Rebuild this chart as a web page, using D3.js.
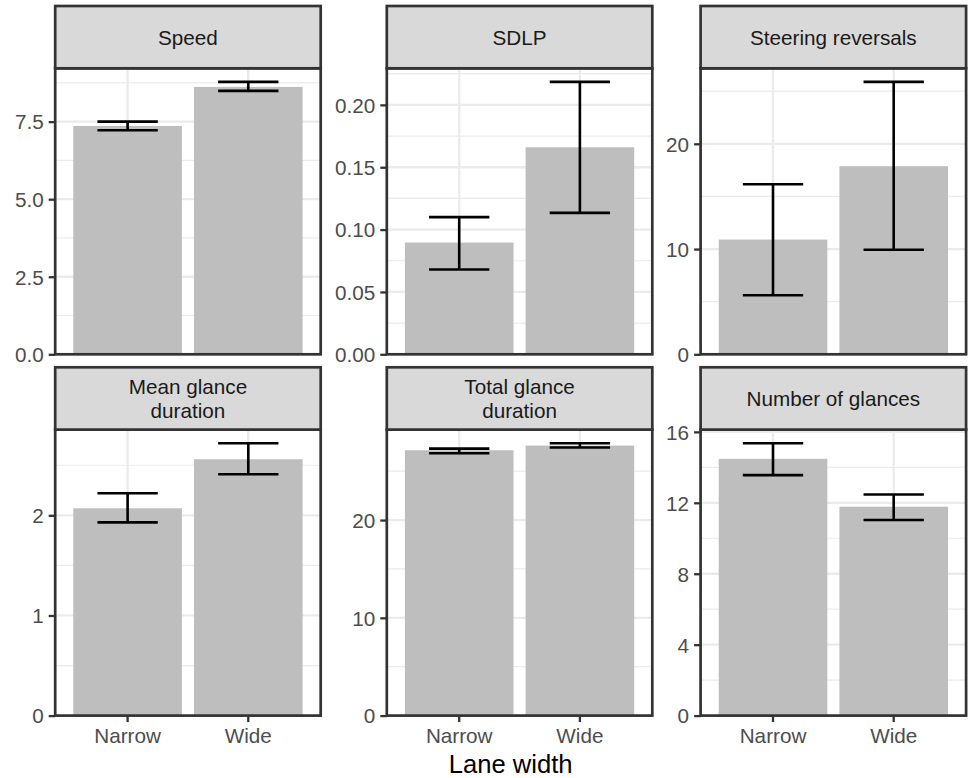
<!DOCTYPE html>
<html>
<head>
<meta charset="utf-8">
<script src="https://cdn.jsdelivr.net/npm/d3@7"></script>
<style>
  body { margin: 0; background: #fff; }
  text { font-family: "Liberation Sans", Arial, Helvetica, sans-serif; }
</style>
</head>
<body>
<svg id="chart"></svg>
<script>
// facet labels (two-line ones split on \n)
var facets = ['Speed', 'SDLP', 'Steering reversals',
              'Mean glance\nduration', 'Total glance\nduration', 'Number of glances'];
var laneWidth = ['Narrow', 'Wide'];

// bar heights (mean) and error bar ends, per facet: [Narrow, Wide]
var means = [[7.36, 8.62], [0.0896, 0.166], [10.9, 17.87], [2.07, 2.56], [27.14, 27.62], [14.48, 11.78]];
var lower = [[7.22, 8.49], [0.068, 0.1134], [5.61, 9.94], [1.93, 2.41], [26.84, 27.42], [13.56, 11.03]];
var upper = [[7.50, 8.78], [0.110, 0.2184], [16.16, 25.88], [2.22, 2.72], [27.31, 27.86], [15.36, 12.47]];

var yTicks = [[0, 2.5, 5, 7.5], [0, 0.05, 0.10, 0.15, 0.20], [0, 10, 20],
              [0, 1, 2], [0, 10, 20], [0, 4, 8, 12, 16]];
var yTickLabels = [['0.0', '2.5', '5.0', '7.5'], ['0.00', '0.05', '0.10', '0.15', '0.20'], ['0', '10', '20'],
                   ['0', '1', '2'], ['0', '10', '20'], ['0', '4', '8', '12', '16']];

var width = 975;
var height = 778;
var colX = [55.2, 386.8, 700.6];
var panelW = 265.5;
var rowStrip = [6, 367.3];
var stripH = 62.3;
var panelH = 286;
var borderCol = '#333333';
var fontSize = 20.7;

var svg = d3.select('#chart')
    .attr('width', width)
    .attr('height', height);

facets.forEach(function(label, i) {
    var col = i % 3;
    var row = Math.floor(i / 3);
    var x0 = colX[col];
    var sTop = rowStrip[row];
    var pTop = sTop + stripH;
    var pBot = pTop + panelH;

    var yMax = d3.max(upper[i]) * 1.05;
    var yScale = d3.scaleLinear()
                    .domain([0, yMax])
                    .range([pBot, pTop]);
    var xScale = d3.scaleBand()
                    .domain(laneWidth)
                    .range([x0, x0 + panelW])
                    .paddingInner(0.1)
                    .paddingOuter(0.15);

    var g = svg.append('g');

    // panel background
    g.append('rect')
        .attr('x', x0).attr('y', pTop)
        .attr('width', panelW).attr('height', panelH)
        .attr('fill', '#ffffff');

    // minor grid: halfway between major breaks
    var step = yTicks[i][1] - yTicks[i][0];
    var minor = yTicks[i].map(d => d + step / 2).filter(d => d < yMax);
    g.selectAll('.minor')
        .data(minor)
        .enter()
      .append('line')
        .attr('x1', x0).attr('x2', x0 + panelW)
        .attr('y1', d => yScale(d)).attr('y2', d => yScale(d))
        .attr('stroke', '#EBEBEB')
        .attr('stroke-width', 1.2);

    g.selectAll('.major')
        .data(yTicks[i])
        .enter()
      .append('line')
        .attr('x1', x0).attr('x2', x0 + panelW)
        .attr('y1', d => yScale(d)).attr('y2', d => yScale(d))
        .attr('stroke', '#EBEBEB')
        .attr('stroke-width', 2.3);

    g.selectAll('.vgrid')
        .data(laneWidth)
        .enter()
      .append('line')
        .attr('x1', d => xScale(d) + xScale.bandwidth() / 2)
        .attr('x2', d => xScale(d) + xScale.bandwidth() / 2)
        .attr('y1', pTop).attr('y2', pBot)
        .attr('stroke', '#EBEBEB')
        .attr('stroke-width', 2.3);

    // bars
    g.selectAll('.bar')
        .data(laneWidth)
        .enter()
      .append('rect')
        .attr('x', d => xScale(d))
        .attr('y', (d, j) => yScale(means[i][j]))
        .attr('width', xScale.bandwidth())
        .attr('height', (d, j) => pBot - yScale(means[i][j]))
        .attr('fill', '#BEBEBE');

    // error bars (width 0.5 of category spacing)
    var half = xScale.bandwidth() / 0.9 * 0.25;
    var eb = g.selectAll('.eb')
        .data(laneWidth)
        .enter()
      .append('g')
        .attr('stroke', '#000')
        .attr('stroke-width', 2.6)
        .attr('fill', 'none');
    eb.append('path')
        .attr('d', function(d, j) {
            var cx = xScale(d) + xScale.bandwidth() / 2;
            var yl = yScale(lower[i][j]);
            var yu = yScale(upper[i][j]);
            return 'M' + (cx - half) + ',' + yu + 'H' + (cx + half) +
                   'M' + cx + ',' + yu + 'V' + yl +
                   'M' + (cx - half) + ',' + yl + 'H' + (cx + half);
        });

    // y axis
    var yAxis = d3.axisLeft(yScale)
                    .tickValues(yTicks[i])
                    .tickFormat((d, k) => yTickLabels[i][k])
                    .tickSize(6.5)
                    .tickPadding(5);
    var ya = g.append('g')
        .attr('transform', 'translate(' + x0 + ',0)')
        .call(yAxis);
    ya.select('.domain').remove();
    ya.selectAll('line').attr('stroke', borderCol).attr('stroke-width', 2.3);
    ya.selectAll('text')
        .attr('fill', '#4D4D4D')
        .attr('dy', '0.355em')
        .style('font-size', fontSize + 'px');

    // x axis only on bottom row
    if (row === 1) {
        var xAxis = d3.axisBottom(xScale)
                        .tickSize(6.5)
                        .tickPadding(6);
        var xa = g.append('g')
            .attr('transform', 'translate(0,' + pBot + ')')
            .call(xAxis);
        xa.select('.domain').remove();
        xa.selectAll('line').attr('stroke', borderCol).attr('stroke-width', 2.3);
        xa.selectAll('text')
            .attr('fill', '#4D4D4D')
            .style('font-size', fontSize + 'px');
    }

    // panel border
    g.append('rect')
        .attr('x', x0).attr('y', pTop)
        .attr('width', panelW).attr('height', panelH)
        .attr('fill', 'none')
        .attr('stroke', borderCol)
        .attr('stroke-width', 2.7);

    // strip
    g.append('rect')
        .attr('x', x0).attr('y', sTop)
        .attr('width', panelW).attr('height', stripH)
        .attr('fill', '#D9D9D9')
        .attr('stroke', borderCol)
        .attr('stroke-width', 2.7);

    var lines = label.split('\n');
    var lineH = 23.3;
    var t = g.append('text')
        .attr('text-anchor', 'middle')
        .attr('fill', '#1A1A1A')
        .style('font-size', fontSize + 'px');
    lines.forEach(function(s, k) {
        t.append('tspan')
            .attr('x', x0 + panelW / 2)
            .attr('y', sTop + stripH / 2 + 7.4 + (k - (lines.length - 1) / 2) * lineH)
            .text(s);
    });
});

svg.append('text')
    .attr('x', (colX[0] + colX[2] + panelW) / 2)
    .attr('y', 772.5)
    .attr('text-anchor', 'middle')
    .attr('fill', '#000')
    .style('font-size', '25.6px')
    .text('Lane width');
</script>
</body>
</html>
